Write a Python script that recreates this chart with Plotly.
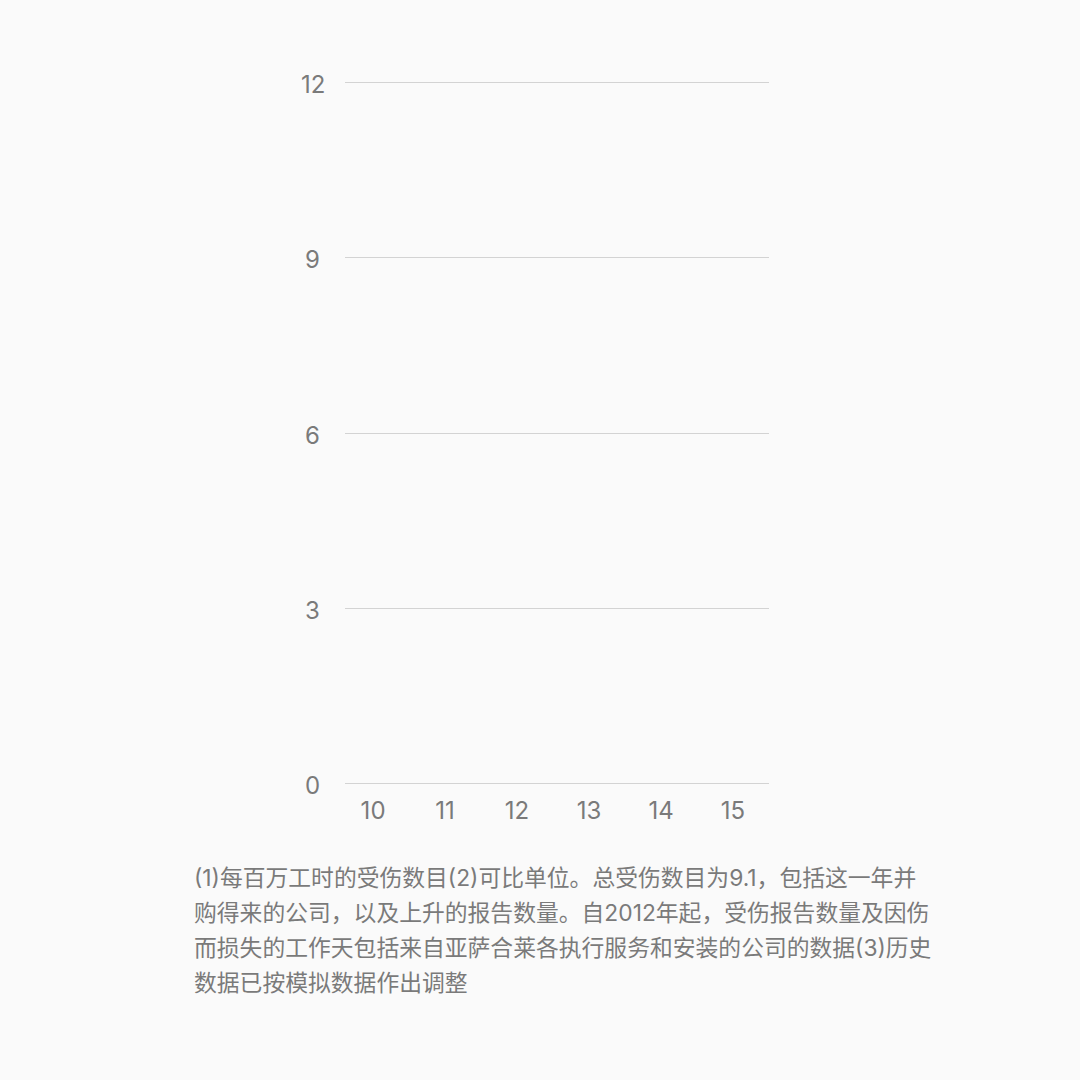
import plotly.graph_objects as go

# 年份（类别轴）和数值 — 原图中没有可见的柱子
years = ['10', '11', '12', '13', '14', '15']
injury_rate = [None, None, None, None, None, None]
y_ticks = [0, 3, 6, 9, 12]

note_lines = [
    '(1)每百万工时的受伤数目(2)可比单位。总受伤数目为9.1，包括这一年并',
    '购得来的公司，以及上升的报告数量。自2012年起，受伤报告数量及因伤',
    '而损失的工作天包括来自亚萨合莱各执行服务和安装的公司的数据(3)历史',
    '数据已按模拟数据作出调整',
]

FONT = 'Inter, Noto Sans CJK SC, sans-serif'
GREY = '#7a7a7a'
BG = '#fafafa'

fig = go.Figure()
fig.add_trace(go.Bar(x=years, y=injury_rate, marker_color='#1f5fa8',
                     showlegend=False, hoverinfo='skip'))

# y 轴刻度标签用居中注释
annotations = []
for v in y_ticks:
    annotations.append(dict(
        text=str(v), xref='paper', yref='y', x=-0.0755, y=v,
        xanchor='center', yanchor='middle', yshift=-2, showarrow=False,
        font=dict(size=24, color=GREY, family=FONT),
    ))

# 脚注，每行一个注释以控制行距
for i, line in enumerate(note_lines):
    annotations.append(dict(
        text=line, xref='paper', yref='paper',
        x=(192 - 345) / 424, y=(785 - (877 + i * 35.3)) / 704,
        xanchor='left', yanchor='middle', align='left', showarrow=False,
        font=dict(size=22.8, color=GREY, family=FONT),
    ))

fig.update_layout(
    width=1080, height=1080,
    paper_bgcolor=BG, plot_bgcolor=BG,
    margin=dict(l=345, r=311, t=81, b=295),
    font=dict(family=FONT, color=GREY),
    xaxis=dict(type='category', categoryarray=years, range=[-0.39, 5.5],
               showgrid=False, showline=False, zeroline=False, ticks='',
               ticklabelstandoff=9,
               tickfont=dict(size=24, color=GREY)),
    yaxis=dict(range=[-0.02, 12.02], tickvals=y_ticks, showticklabels=False,
               showgrid=True, gridcolor='#d3d3d3', gridwidth=1,
               zeroline=False, showline=False, ticks=''),
    annotations=annotations,
)

fig.write_html('out.html', config={'displayModeBar': False},
               post_script="document.body.style.margin='0';"
                           "document.body.style.background='#fafafa';")
